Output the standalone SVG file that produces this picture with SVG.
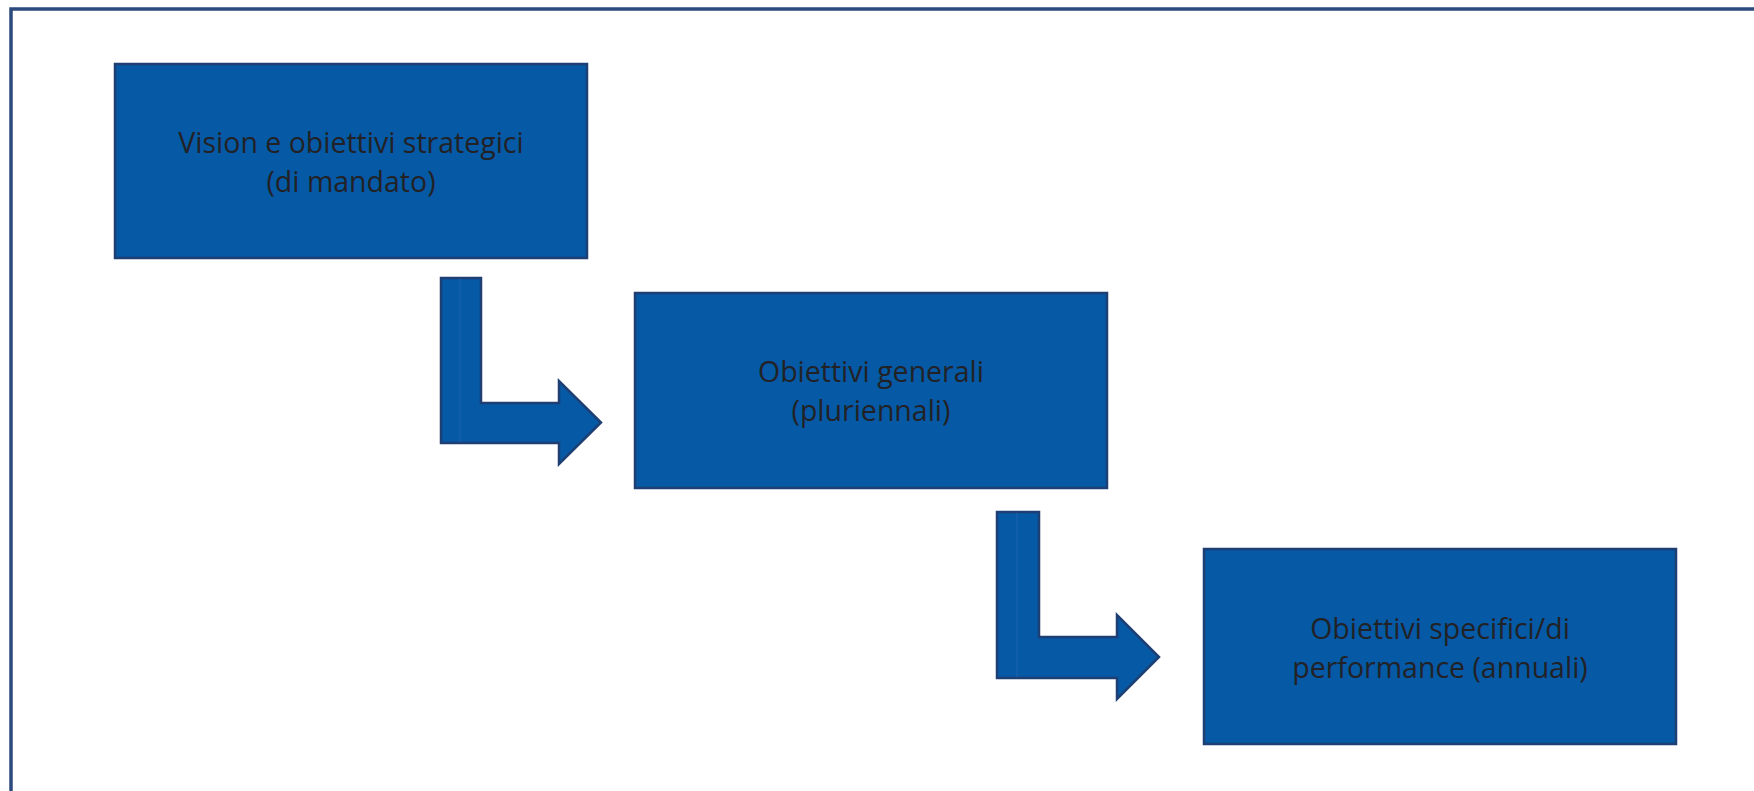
<svg xmlns="http://www.w3.org/2000/svg" width="1754" height="791" viewBox="0 0 1754 791">
<style>
.box{fill:#0559a5;stroke:#1d3f73;stroke-width:2.5}
.arr{fill:#0559a5;stroke:#1d3f73;stroke-width:2.5;stroke-linejoin:miter}
.seam{stroke:#1f62ad;stroke-width:1}
.lbl{font-family:"Open Sans","Noto Sans",sans-serif;font-size:28.5px;fill:#222226;text-anchor:middle}
.frame{fill:none;stroke:#2c4a7c;stroke-width:3.5}
</style>
<rect width="1754" height="791" fill="#ffffff"/>
<path class="frame" d="M11,800 L11,9 L1760,9"/>
<g id="connectors">
<path class="arr" d="M441,278 L481,278 L481,403 L559,403 L559,381 L601,422.5 L559,464 L559,443 L441,443 Z"/>
<line class="seam" x1="460" y1="279" x2="460" y2="442"/>
<path class="arr" d="M997,512 L1039,512 L1039,637 L1117,637 L1117,615 L1159,657 L1117,699 L1117,678 L997,678 Z"/>
<line class="seam" x1="1017" y1="513" x2="1017" y2="677"/>
</g>
<g id="node1">
<rect class="box" x="115" y="64" width="472" height="194"/>
<text class="lbl" x="351" y="153">Vision e obiettivi strategici</text>
<text class="lbl" x="351" y="192">(di mandato)</text>
</g>
<g id="node2">
<rect class="box" x="635" y="293" width="472" height="195"/>
<text class="lbl" x="871" y="382">Obiettivi generali</text>
<text class="lbl" x="871" y="421">(pluriennali)</text>
</g>
<g id="node3">
<rect class="box" x="1204" y="549" width="472" height="195"/>
<text class="lbl" x="1440" y="639">Obiettivi specifici/di</text>
<text class="lbl" x="1440" y="678">performance (annuali)</text>
</g>
</svg>
